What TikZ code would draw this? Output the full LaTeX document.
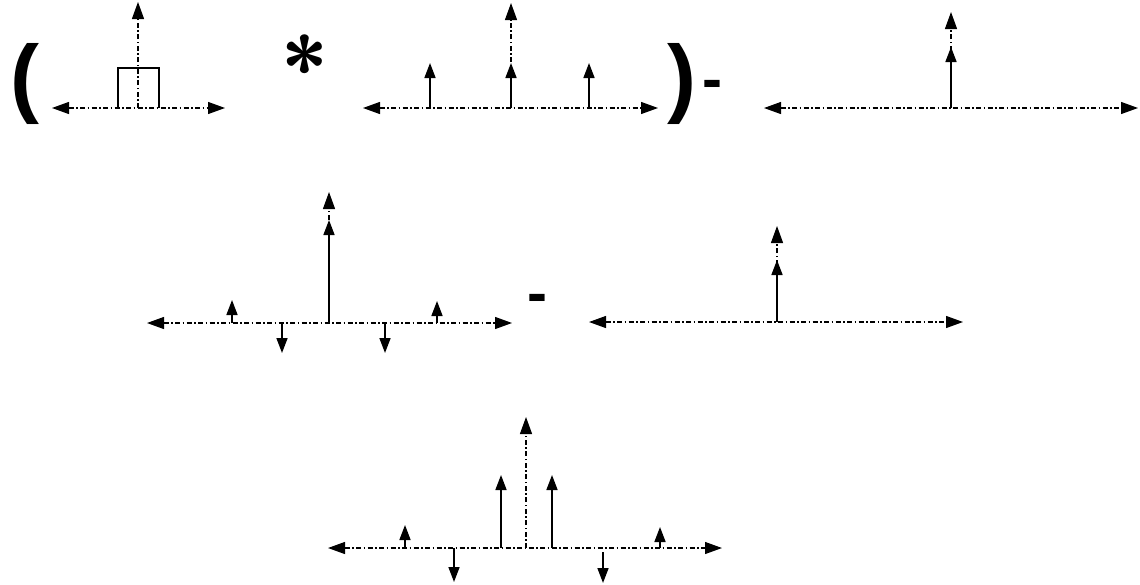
\documentclass[tikz,border=0pt]{standalone}
\usepackage{fontspec}
\setmainfont{Liberation Sans}
\usetikzlibrary{arrows.meta}
\begin{document}
\begin{tikzpicture}[x=1pt,y=-1pt,
  axisline/.style={line width=1.2pt, dash pattern=on 5pt off 2.5pt on 1.5pt off 2.5pt, {Triangle[length=17pt,width=12pt]}-{Triangle[length=17pt,width=12pt]}},
  vaxis/.style={line width=1.2pt, dash pattern=on 5pt off 2.5pt on 1.5pt off 2.5pt, -{Triangle[length=17pt,width=12pt]}},
  impulse/.style={line width=1.6pt, -{Triangle[length=15pt,width=11pt]}},
  rectline/.style={line width=1.4pt},
  paren/.style={inner sep=0pt, font=\bfseries\fontsize{87}{87}\selectfont},
  asterisk/.style={inner sep=0pt, anchor=north, font=\sffamily\bfseries\fontsize{85}{85}\selectfont},
  minus/.style={inner sep=0pt, anchor=north, font=\bfseries\fontsize{60}{60}\selectfont}
]
\useasboundingbox (0,0) rectangle (1140,584);

% symbols
\node[paren] (lp) at (25,84) {(};
\node[asterisk] (st) at (305,35) {*};
\node[paren] (rp) at (682,84) {)};
\node[minus] (m1) at (712,80) {-};
\node[minus] (m2) at (537,294) {-};

% panel 1: rectangle
\coordinate (p1L) at (52,108); \coordinate (p1R) at (225,108);
\coordinate (p1O) at (138,108); \coordinate (p1T) at (138,2);
\coordinate (r1a) at (118,108); \coordinate (r1b) at (118,68);
\coordinate (r1c) at (159,68); \coordinate (r1d) at (159,108);
\draw[rectline] (r1a) -- (r1b) -- (r1c) -- (r1d);
\draw[axisline] (p1L) -- (p1R);
\draw[vaxis] (p1O) -- (p1T);

% panel 2: comb
\coordinate (p2L) at (363,108); \coordinate (p2R) at (658,108);
\coordinate (p2O) at (511,108); \coordinate (p2T) at (511,3);
\coordinate (c2a) at (430,108); \coordinate (c2at) at (430,63);
\coordinate (c2bt) at (511,63);
\coordinate (c2c) at (589,108); \coordinate (c2ct) at (589,63);
\draw[axisline] (p2L) -- (p2R);
\draw[vaxis] (p2O) -- (p2T);
\draw[impulse] (c2a) -- (c2at);
\draw[impulse] (p2O) -- (c2bt);
\draw[impulse] (c2c) -- (c2ct);

% panel 3: single impulse
\coordinate (p3L) at (764,108); \coordinate (p3R) at (1138,108);
\coordinate (p3O) at (951,108); \coordinate (p3T) at (951,12);
\coordinate (p3I) at (951,47);
\draw[axisline] (p3L) -- (p3R);
\draw[vaxis] (p3O) -- (p3T);
\draw[impulse] (p3O) -- (p3I);

% panel 4
\coordinate (p4L) at (147,323); \coordinate (p4R) at (512,323);
\coordinate (p4O) at (329,323); \coordinate (p4T) at (329,192);
\coordinate (p4I) at (329,220);
\coordinate (p4a) at (232,323); \coordinate (p4at) at (232,300);
\coordinate (p4b) at (437,323); \coordinate (p4bt) at (437,301);
\coordinate (p4c) at (282,323); \coordinate (p4ct) at (282,353);
\coordinate (p4d) at (385,323); \coordinate (p4dt) at (385,353);
\draw[axisline] (p4L) -- (p4R);
\draw[vaxis] (p4O) -- (p4T);
\draw[impulse] (p4O) -- (p4I);
\draw[impulse] (p4a) -- (p4at);
\draw[impulse] (p4b) -- (p4bt);
\draw[impulse] (p4c) -- (p4ct);
\draw[impulse] (p4d) -- (p4dt);

% panel 5
\coordinate (p5L) at (589,322); \coordinate (p5R) at (963,322);
\coordinate (p5O) at (777,322); \coordinate (p5T) at (777,226);
\coordinate (p5I) at (777,260);
\draw[axisline] (p5L) -- (p5R);
\draw[vaxis] (p5O) -- (p5T);
\draw[impulse] (p5O) -- (p5I);

% panel 6
\coordinate (p6L) at (328,548); \coordinate (p6R) at (722,548);
\coordinate (p6O) at (526,548); \coordinate (p6T) at (526,417);
\coordinate (p6a) at (501,548); \coordinate (p6at) at (501,475);
\coordinate (p6b) at (552,548); \coordinate (p6bt) at (552,475);
\coordinate (p6c) at (405,548); \coordinate (p6ct) at (405,525);
\coordinate (p6d) at (660,548); \coordinate (p6dt) at (660,527);
\coordinate (p6e) at (454,548); \coordinate (p6et) at (454,582);
\coordinate (p6f) at (603,552); \coordinate (p6ft) at (603,583);
\draw[axisline] (p6L) -- (p6R);
\draw[vaxis] (p6O) -- (p6T);
\draw[impulse] (p6a) -- (p6at);
\draw[impulse] (p6b) -- (p6bt);
\draw[impulse] (p6c) -- (p6ct);
\draw[impulse] (p6d) -- (p6dt);
\draw[impulse] (p6e) -- (p6et);
\draw[impulse] (p6f) -- (p6ft);
\end{tikzpicture}
\end{document}
